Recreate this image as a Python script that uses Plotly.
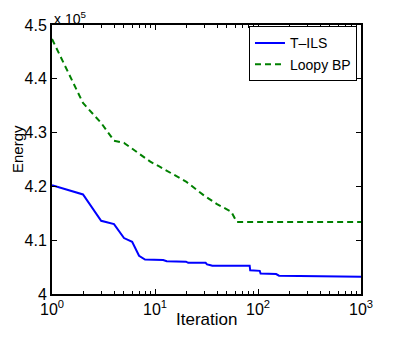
import plotly.graph_objects as go

# T-ILS energy (x 10^5)
tils_iter = [1, 2, 3, 4, 5, 6, 7, 8, 12, 13, 20, 21, 31, 32, 34, 36, 83, 84, 104, 106, 150, 160, 1000]
tils_energy = [4.202, 4.185, 4.136, 4.130, 4.104, 4.097, 4.071, 4.064, 4.063, 4.061, 4.060, 4.058,
               4.058, 4.055, 4.054, 4.0527, 4.0527, 4.044, 4.043, 4.038, 4.037, 4.034, 4.032]

# Loopy BP energy (x 10^5)
bp_iter = [1, 2, 3, 4, 5, 7, 9, 11, 15, 20, 30, 40, 55, 62, 1000]
bp_energy = [4.474, 4.355, 4.318, 4.285, 4.281, 4.261, 4.246, 4.237, 4.222, 4.209, 4.183, 4.167,
             4.153, 4.134, 4.134]

x_ticks = [1, 10, 100, 1000]
x_ticktext = ["10<sup>0</sup>", "10<sup>1</sup>", "10<sup>2</sup>", "10<sup>3</sup>"]
x_minor = [m * d for d in [1, 10, 100] for m in range(2, 10)]
y_ticks = [4.0, 4.1, 4.2, 4.3, 4.4, 4.5]
y_ticktext = ["4", "4.1", "4.2", "4.3", "4.4", "4.5"]

fig = go.Figure()
fig.add_trace(go.Scatter(x=tils_iter, y=tils_energy, mode="lines", name="T\u2013ILS",
                         line=dict(color="#0000ff", width=2)))
fig.add_trace(go.Scatter(x=bp_iter, y=bp_energy, mode="lines", name="Loopy BP",
                         line=dict(color="#008000", width=2, dash="6px,4px")))

axis_font = dict(family="Liberation Sans", size=16, color="black")

fig.update_xaxes(type="log", range=[0, 3], tickvals=x_ticks, ticktext=x_ticktext,
                 ticks="inside", ticklen=5, tickwidth=1, tickcolor="black",
                 minor=dict(tickvals=x_minor, ticks="inside", ticklen=3, tickcolor="black"),
                 showline=True, linecolor="black", linewidth=2, mirror="ticks",
                 showgrid=False, zeroline=False, tickfont=axis_font, automargin=False)
fig.update_yaxes(range=[4.0, 4.5], tickvals=y_ticks, ticktext=y_ticktext,
                 ticks="inside", ticklen=5, tickwidth=1, tickcolor="black",
                 showline=True, linecolor="black", linewidth=2, mirror="ticks",
                 showgrid=False, zeroline=False, tickfont=axis_font, automargin=False)

# axis titles as annotations so they sit where the original puts them
fig.add_annotation(text="Iteration", xref="paper", yref="paper", x=0.5, y=0,
                   xanchor="center", yanchor="middle", yshift=-25, showarrow=False,
                   font=dict(family="Liberation Sans", size=17, color="black"))
fig.add_annotation(text="Energy", xref="paper", yref="paper", x=0, y=0.539,
                   xanchor="center", yanchor="middle", xshift=-35, textangle=-90,
                   showarrow=False, font=dict(family="Liberation Sans", size=15, color="black"))
fig.add_annotation(text="x 10<sup>5</sup>", xref="paper", yref="paper", x=0, y=1,
                   xanchor="left", yanchor="bottom", showarrow=False, yshift=-4,
                   font=dict(family="Liberation Sans", size=14, color="black"))

# page body has an 8px margin, so the figure is a bit smaller than the window
fig.update_layout(
    width=391, height=330,
    margin=dict(l=44, r=38, t=17, b=44),
    plot_bgcolor="white", paper_bgcolor="white",
    legend=dict(x=0.987, y=0.995, xanchor="right", yanchor="top",
                bgcolor="white", bordercolor="black", borderwidth=1,
                font=dict(family="Liberation Sans", size=14, color="black"),
                itemwidth=30, tracegroupgap=0),
)

fig.write_html("out.html")
